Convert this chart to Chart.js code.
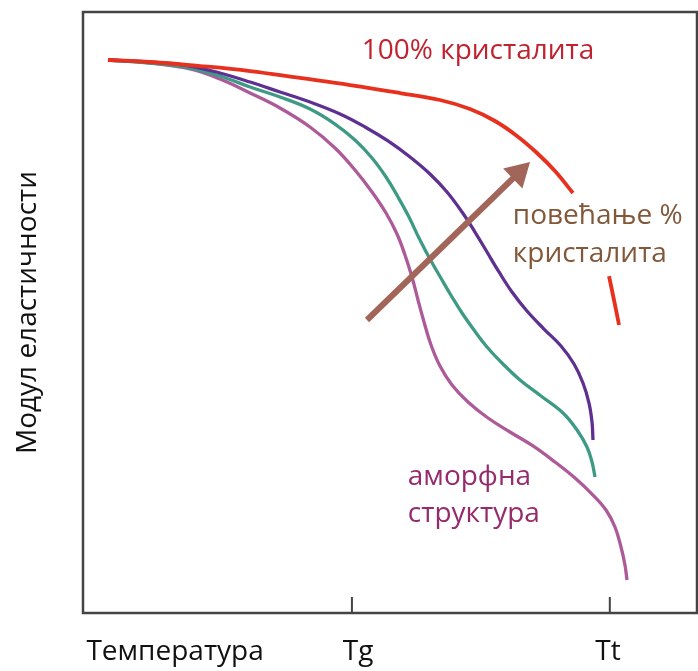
<!DOCTYPE html>
<html>
<head>
<meta charset="utf-8">
<title>Модул еластичности</title>
<script src="https://cdn.jsdelivr.net/npm/chart.js@4.4.0/dist/chart.umd.min.js"></script>
<style>
  html, body { margin: 0; padding: 0; background: #fff; }
  #wrap { width: 698px; height: 671px; position: relative; }
</style>
</head>
<body>
<div id="wrap"><canvas id="chart"></canvas></div>
<script>
// both axes in arbitrary units 0..100
const xTickPos = [15, 44.8, 85.5];
const xTickLabels = ['Температура', 'Tg', 'Tt'];
const xMarkPos = [43.8, 85.8];

// 100% кристалита (null = break in the line)
const redX = [4.07, 10.91, 19.06, 27.2, 35.34, 43.49, 51.63, 58.14, 63.03, 67.1, 70.68, 73.94, 76.87, 79.8, 82.7, 85.67, 86.48, 87.3];
const redY = [92.01, 91.68, 91.01, 90.18, 89.02, 87.85, 86.52, 85.36, 83.86, 81.86, 79.37, 76.54, 73.54, 69.88, null, 56.07, 52.08, 47.92];

const purpleX = [4.07, 10.91, 17.43, 22.31, 27.2, 32.08, 36.97, 41.86, 45.93, 49.67, 53.26, 56.51, 59.28, 61.73, 63.84, 65.8, 67.75, 69.87, 72.31, 75.08, 77.85, 79.97, 81.43, 82.41, 82.9, 83.06];
const purpleY = [92.01, 91.68, 91.01, 89.85, 88.35, 86.69, 85.02, 83.03, 80.87, 78.54, 75.87, 73.04, 70.05, 66.72, 63.39, 60.07, 56.74, 53.41, 50.25, 47.25, 44.43, 41.43, 38.27, 34.94, 31.78, 28.79];

const greenX = [4.07, 10.91, 17.43, 22.31, 27.2, 32.08, 36.97, 41.04, 44.3, 47.07, 49.35, 51.3, 53.09, 54.72, 56.51, 58.47, 60.1, 61.73, 63.68, 65.8, 68.4, 71.17, 74.59, 78.18, 80.46, 82.08, 82.9, 83.39];
const greenY = [92.01, 91.51, 90.68, 89.35, 87.52, 85.86, 83.86, 81.36, 78.7, 75.71, 72.55, 69.22, 65.89, 62.4, 58.9, 55.41, 52.58, 49.92, 47.09, 44.26, 41.43, 38.77, 36.11, 33.28, 30.45, 27.62, 25.12, 22.63];

// аморфна структура
const pinkX = [4.07, 10.91, 17.43, 22.31, 27.2, 32.08, 36.97, 41.04, 44.3, 47.07, 49.35, 51.14, 52.44, 53.58, 54.56, 55.54, 56.68, 58.14, 60.1, 62.7, 65.96, 69.54, 73.29, 76.87, 80.13, 83.06, 85.18, 86.64, 87.62, 88.27, 88.6];
const pinkY = [92.01, 91.51, 90.52, 88.85, 86.52, 84.03, 80.87, 77.37, 73.71, 70.05, 66.56, 63.06, 59.57, 55.91, 52.08, 48.42, 44.59, 41.1, 37.94, 35.11, 32.45, 30.12, 27.79, 25.12, 22.46, 19.63, 17.14, 14.31, 10.98, 7.99, 5.49];

// arrow "повећање % кристалита": tail, head
const arrowX = [46.25, 70.93];
const arrowY = [48.75, 73.21];

const FONT = "'Open Sans', sans-serif";

const pts = (xs, ys) => xs.map((x, i) => ({ x: x, y: ys[i] }));

const notes = [
    { text: '100% кристалита', x: 45.4, y: 92.2, color: '#c0222f' },
    { text: 'повећање %', x: 70.0, y: 64.7, color: '#82583a' },
    { text: 'кристалита', x: 70.0, y: 58.4, color: '#82583a' },
    { text: 'аморфна', x: 52.9, y: 21.3, color: '#952a6c' },
    { text: 'структура', x: 52.9, y: 15.1, color: '#952a6c' }
];

const extras = {
    id: 'extras',
    beforeDatasetsDraw(chart) {
        const { ctx, chartArea: a, scales: { x } } = chart;
        ctx.save();
        ctx.strokeStyle = '#444';
        ctx.lineWidth = 2.5;
        ctx.strokeRect(a.left, a.top, a.right - a.left, a.bottom - a.top);
        // tick marks point into the plot
        ctx.lineWidth = 2;
        xMarkPos.forEach(v => {
            const px = x.getPixelForValue(v);
            ctx.beginPath();
            ctx.moveTo(px, a.bottom);
            ctx.lineTo(px, a.bottom - 16);
            ctx.stroke();
        });
        ctx.restore();
    },
    afterDatasetsDraw(chart) {
        const { ctx, scales: { x, y } } = chart;
        ctx.save();
        ctx.font = '28px ' + FONT;
        ctx.textAlign = 'left';
        ctx.textBaseline = 'alphabetic';
        notes.forEach(n => {
            ctx.fillStyle = n.color;
            ctx.fillText(n.text, x.getPixelForValue(n.x), y.getPixelForValue(n.y));
        });
        ctx.restore();
    }
};

const curve = (data, color, width) => ({
    data: data,
    borderColor: color,
    borderWidth: width,
    pointRadius: 0,
    fill: false,
    spanGaps: false,
    tension: 0.4
});

new Chart(document.getElementById('chart'), {
    type: 'line',
    data: {
        datasets: [
            {
                data: pts(arrowX, arrowY),
                borderColor: '#a2655a',
                backgroundColor: '#a2655a',
                borderWidth: 6,
                tension: 0,
                pointStyle: 'triangle',
                pointRadius: [0, 16],
                pointRotation: 46,
                pointBorderWidth: 0,
                fill: false
            },
            curve(pts(redX, redY), '#e8301e', 3.8),
            curve(pts(purpleX, purpleY), '#5e3092', 3.3),
            curve(pts(greenX, greenY), '#3e9a84', 3.3),
            curve(pts(pinkX, pinkY), '#ad5a98', 3.3)
        ]
    },
    options: {
        responsive: true,
        maintainAspectRatio: false,
        animation: false,
        layout: { autoPadding: false, padding: { top: 12, right: 1, left: 0, bottom: 0 } },
        plugins: {
            legend: { display: false },
            tooltip: { enabled: false }
        },
        scales: {
            x: {
                type: 'linear',
                min: 0,
                max: 100,
                grid: { display: false },
                border: { display: false },
                afterBuildTicks: scale => {
                    scale.ticks = xTickPos.map(v => ({ value: v }));
                },
                afterFit: scale => { scale.height = 58; },
                ticks: {
                    autoSkip: false,
                    maxRotation: 0,
                    padding: 14,
                    color: '#111',
                    font: { family: FONT, size: 28 },
                    callback: (v, i) => xTickLabels[i]
                }
            },
            y: {
                type: 'linear',
                min: 0,
                max: 100,
                grid: { display: false },
                border: { display: false },
                ticks: { display: false },
                afterFit: scale => { scale.width = 83; },
                title: {
                    display: true,
                    text: 'Модул еластичности',
                    color: '#111',
                    font: { family: FONT, size: 28 },
                    padding: { top: 11, bottom: 0 }
                }
            }
        }
    },
    plugins: [extras]
});
</script>
</body>
</html>
